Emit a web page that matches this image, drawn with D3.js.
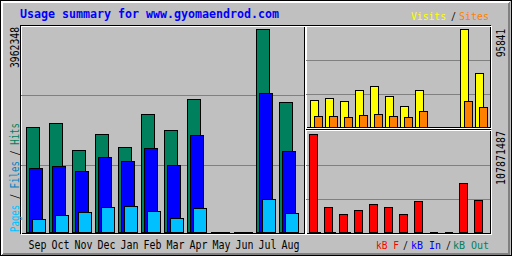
<!DOCTYPE html>
<html>
<head>
<style>
  body { margin: 0; background: #fff; }
  svg { display: block; }
  text { font-family: "DejaVu Sans Mono", monospace; }
</style>
<script src="https://cdnjs.cloudflare.com/ajax/libs/d3/7.0.4/d3.min.js"></script>
</head>
<body>
<script>
// monthly usage
const months = ["Sep","Oct","Nov","Dec","Jan","Feb","Mar","Apr","May","Jun","Jul","Aug"];
const hits   = [2049000, 2121800, 1594800, 1907000, 1653000, 2303000, 1985000, 2590000, 0, 0, 3962348, 2537000];
const files  = [1243000, 1282000, 1190000, 1464000, 1380000, 1634000, 1308000, 1893000, 0, 0, 2713000, 1581000];
const pages  = [254000, 326000, 390000, 482000, 502000, 410000, 267000, 463000, 0, 0, 638000, 365000];
const visits = [26700, 28650, 25720, 36480, 40390, 30610, 20830, 36480, 0, 0, 95841, 53100];
const sites  = [11050, 11050, 10070, 12030, 13010, 11050, 10070, 15940, 0, 0, 25720, 19850];
const kbF    = [107871487, 27800000, 20100000, 24500000, 31100000, 27800000, 20100000, 34400000, 0, 0, 54300000, 35600000];
const kbIn   = [300000, 300000, 300000, null, null, null, null, null, null, null, null, null];
const kbOut  = [200000, 200000, 200000, null, null, null, null, null, null, null, null, null];

const title = "Usage summary for www.gyomaendrod.com";

const W = 512, H = 256;
const grey = "#c0c0c0", dark = "#808080";
const cHits = "#00805c", cFiles = "#0000ff", cPages = "#00c0ff";
const cVisits = "#ffff00", cSites = "#ff8000", cKb = "#ff0000";

const svg = d3.select("body").append("svg")
  .attr("width", W).attr("height", H)
  .attr("shape-rendering", "crispEdges");

// background + bevel
svg.append("rect").attr("width", W).attr("height", H).attr("fill", grey);
svg.append("rect").attr("x", 0.5).attr("y", 0.5).attr("width", W - 1).attr("height", H - 1)
  .attr("fill", "none").attr("stroke", "#000");
svg.append("path").attr("fill", "#fff").attr("d", "M1 1 H510 L508 3 H3 V253 L1 255 Z");
svg.append("path").attr("fill", dark).attr("d", "M510 1 V255 H1 L3 253 H508 V3 Z");

function hline(y, x1, x2, col) {
  svg.append("line").attr("x1", x1).attr("x2", x2 + 1).attr("y1", y + 0.5).attr("y2", y + 0.5)
    .attr("stroke", col);
}

// panel frames: black box with a white one shifted by one pixel
function frame(x1, y1, x2, y2) {
  svg.append("rect").attr("x", x1 + 0.5).attr("y", y1 + 0.5).attr("width", x2 - x1).attr("height", y2 - y1)
    .attr("fill", "none").attr("stroke", "#000");
  svg.append("rect").attr("x", x1 + 1.5).attr("y", y1 + 1.5).attr("width", x2 - x1).attr("height", y2 - y1)
    .attr("fill", "none").attr("stroke", "#fff");
  // grid at thirds
  const g = d3.scaleLinear().domain([0, 3]).range([y2 + 1, y1 + 1]);
  [1, 2].forEach(k => hline(Math.round(g(k)), x1 + 1, x2 - 1, dark));
}
frame(305, 25, 490, 127);
frame(305, 129, 490, 233);
frame(20, 25, 304, 233);

// scales
const xMain = d3.scaleBand().domain(months).range([26, 26 + 12 * 23]);
const yMain = d3.scaleLinear().domain([0, d3.max(hits)]).range([232, 29]);
const xTop = d3.scaleBand().domain(months).range([310, 310 + 12 * 15]);
const yTop = d3.scaleLinear().domain([0, d3.max(visits)]).range([127, 29]);
const xBot = d3.scaleBand().domain(months).range([309, 309 + 12 * 15]);
const yBot = d3.scaleLinear().domain([0, d3.max(kbF)]).range([232, 134]);

function bars(vals, x, y, off, w, col) {
  const rows = months.map((m, i) => ({ m, v: vals[i] })).filter(d => d.v != null);
  svg.append("g").selectAll("path").data(rows).join("path")
    .attr("fill", col).attr("stroke", "#000")
    .attr("d", d => {
      const x1 = x(d.m) + off + 0.5, x2 = x1 + w;
      const y1 = Math.round(y(d.v)) + 0.5, y2 = Math.round(y(0)) + 0.5;
      return `M${x1} ${y1} H${x2} V${y2} H${x1} Z`;
    });
}
bars(hits, xMain, yMain, 0, 13, cHits);
bars(files, xMain, yMain, 3, 13, cFiles);
bars(pages, xMain, yMain, 6, 13, cPages);
bars(visits, xTop, yTop, 0, 8, cVisits);
bars(sites, xTop, yTop, 4, 8, cSites);
bars(kbF, xBot, yBot, 0, 8, cKb);
bars(kbIn, xBot, yBot, 2, 6, "#0000ff");
bars(kbOut, xBot, yBot, 5, 6, cHits);

// month labels
const ax = svg.append("g").attr("transform", "translate(0,240)")
  .call(d3.axisBottom(xMain).tickSize(0).tickPadding(0));
ax.select(".domain").remove();
ax.selectAll("text").attr("dy", null).attr("y", 9)
  .attr("font-family", "DejaVu Sans Mono").attr("font-size", 11.5)
  .attr("textLength", 18).attr("lengthAdjust", "spacingAndGlyphs").attr("fill", "#000");

function label(str, x, y, col, opts = {}) {
  const t = svg.append("text").attr("x", x).attr("y", y).attr("fill", col)
    .attr("font-size", opts.size || 11.5)
    .attr("textLength", opts.len || str.length * (opts.adv || 6)).attr("lengthAdjust", "spacingAndGlyphs")
    .text(str);
  if (opts.bold) t.attr("font-weight", "bold");
  return t;
}
function labelUp(str, x, y, col, len) {
  return svg.append("text").attr("transform", `translate(${x},${y}) rotate(-90)`)
    .attr("text-anchor", "end").attr("fill", col).attr("font-size", 11.5)
    .attr("textLength", len || str.length * 6).attr("lengthAdjust", "spacingAndGlyphs")
    .text(str);
}

label(title, 20, 18, "#0000ff", { bold: true, adv: 7 });

label("Visits", 411, 20, cVisits, { len: 35, size: 10.5 });
label("/", 451, 20, "#000", { len: 5, size: 10.5 });
label("Sites", 459, 20, cSites, { len: 30, size: 10.5 });

label("kB F", 376, 249, cKb, { len: 23, size: 10.5 });
label("/", 403, 249, "#000", { len: 5, size: 10.5 });
label("kB In", 411, 249, "#0000ff", { len: 30, size: 10.5 });
label("/", 446, 249, "#000", { len: 5, size: 10.5 });
label("kB Out", 453, 249, cHits, { len: 36, size: 10.5 });

labelUp(String(d3.max(hits)), 19, 27, "#000", 41);
labelUp(String(d3.max(visits)), 505, 29, "#000", 28);
labelUp(String(d3.max(kbF)), 505, 131, "#000", 54);

// Pages / Files / Hits, reading upward
const side = svg.append("text").attr("transform", "translate(19,232) rotate(-90)")
  .attr("font-size", 11.5).attr("textLength", 109).attr("lengthAdjust", "spacingAndGlyphs");
[["Pages", cPages], [" / ", "#000"], ["Files", "#0080c0"], [" / ", "#000"], ["Hits", cHits]]
  .forEach(([s, c]) => side.append("tspan").attr("fill", c).text(s));
</script>
</body>
</html>
